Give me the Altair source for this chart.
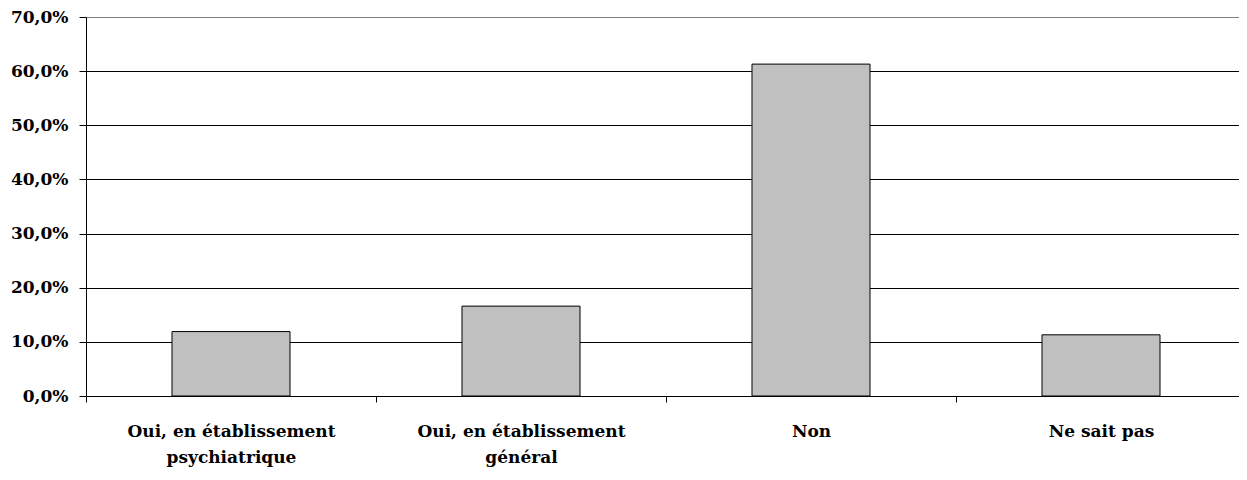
import altair as alt
import pandas as pd

categories = [
    "Oui, en établissement|psychiatrique",
    "Oui, en établissement|général",
    "Non",
    "Ne sait pas",
]
values = [0.119, 0.166, 0.613, 0.113]
y_ticks = [0, 0.1, 0.2, 0.3, 0.4, 0.5, 0.6, 0.7]

df = pd.DataFrame({"cat": categories, "val": values})

FONT = "DejaVu Serif"

chart = (
    alt.Chart(df)
    .mark_bar(color="#C0C0C0", stroke="black", strokeWidth=1,
              width=alt.RelativeBandSize(0.407))
    .encode(
        x=alt.X(
            "cat:N",
            sort=categories,
            title=None,
            scale=alt.Scale(paddingInner=0, paddingOuter=0),
            axis=alt.Axis(
                labelAngle=0,
                labelExpr="split(datum.label, '|')",
                labelFont=FONT,
                labelFontSize=17,
                labelFontWeight="bold",
                labelColor="black",
                labelLimit=0,
                labelLineHeight=26,
                labelPadding=21,
                tickBand="extent",
                tickSize=6,
                tickColor="black",
                domainColor="black",
                grid=False,
            ),
        ),
        y=alt.Y(
            "val:Q",
            title=None,
            scale=alt.Scale(domain=[0, 0.7], nice=False),
            axis=alt.Axis(
                values=y_ticks,
                labelExpr="replace(format(datum.value, '.1%'), '.', ',')",
                labelFont=FONT,
                labelFontSize=17,
                labelFontWeight="bold",
                labelColor="black",
                labelPadding=11,
                tickSize=7,
                tickColor="black",
                domainColor="black",
                grid=True,
                gridColor={"condition": {"test": "datum.value === 0.7", "value": "#808080"}, "value": "black"},
                gridOpacity=1,
                gridWidth=1,
            ),
        ),
    )
    .properties(
        width=1160,
        height=379,
        autosize=alt.AutoSizeParams(type="none"),
        padding={"left": 78, "top": 9, "right": -7, "bottom": 72},
    )
    .configure_view(stroke=None)
)

chart.save("out.html", embed_options={"renderer": "svg", "actions": False})
